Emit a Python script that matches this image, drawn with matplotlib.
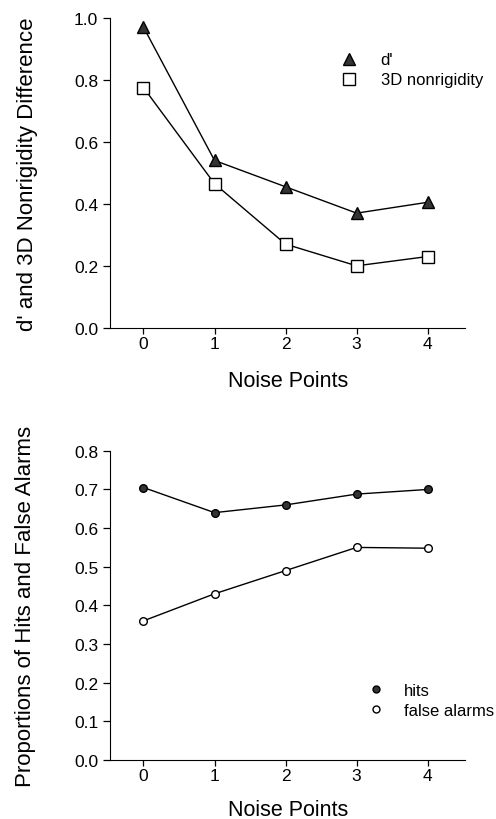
import matplotlib.pyplot as plt
from matplotlib.lines import Line2D

plt.rcParams['font.family'] = ['Liberation Sans', 'DejaVu Sans']

noise_points = [0, 1, 2, 3, 4]
d_prime = [0.97, 0.54, 0.455, 0.37, 0.405]
nonrigidity = [0.775, 0.465, 0.27, 0.20, 0.23]
hits = [0.705, 0.64, 0.66, 0.688, 0.70]
false_alarms = [0.36, 0.43, 0.49, 0.55, 0.548]

fig = plt.figure(figsize=(4.96, 8.2), dpi=100)


def style_axes(ax, ymax, yticks):
    ax.spines['top'].set_visible(False)
    ax.spines['right'].set_visible(False)
    ax.set_xlim(-0.47, 4.53)
    ax.set_ylim(0, ymax)
    ax.set_xticks(noise_points)
    ax.set_yticks(yticks)
    ax.set_yticklabels(['%.1f' % t for t in yticks])
    ax.tick_params(labelsize=12.5, length=5, width=0.9, direction='out')
    ax.tick_params(axis='x', length=4, pad=2)


# top panel
ax1 = fig.add_axes([0.222, 0.599, 0.716, 0.378])
ax1.plot(noise_points, d_prime, color='black', lw=1, marker='^', ms=8,
         mfc='#333333', mec='black')
ax1.plot(noise_points, nonrigidity, color='black', lw=1, marker='s', ms=8,
         mfc='white', mec='black')
style_axes(ax1, 1.0, [0.0, 0.2, 0.4, 0.6, 0.8, 1.0])
ax1.set_ylabel("d' and 3D Nonrigidity Difference", fontsize=16)
ax1.yaxis.set_label_coords(-0.203, 0.5)
ax1.set_xlabel('Noise Points', fontsize=15.5)
ax1.xaxis.set_label_coords(0.5, -0.135)
h1 = [Line2D([], [], ls='none', marker='^', ms=8, mfc='#333333', mec='black'),
      Line2D([], [], ls='none', marker='s', ms=8, mfc='white', mec='black')]
ax1.legend(h1, ["d'", '3D nonrigidity'], frameon=False, fontsize=12,
           loc='upper left', bbox_to_anchor=(0.63, 0.91), handlelength=1,
           handletextpad=1.4, labelspacing=0.3, borderaxespad=0)

# bottom panel
ax2 = fig.add_axes([0.222, 0.072, 0.716, 0.377])
ax2.plot(noise_points, hits, color='black', lw=1, marker='o', ms=5.5,
         mfc='#333333', mec='black')
ax2.plot(noise_points, false_alarms, color='black', lw=1, marker='o', ms=5.5,
         mfc='white', mec='black')
style_axes(ax2, 0.8, [0.0, 0.1, 0.2, 0.3, 0.4, 0.5, 0.6, 0.7, 0.8])
ax2.set_ylabel('Proportions of Hits and False Alarms', fontsize=16)
ax2.yaxis.set_label_coords(-0.21, 0.5)
ax2.set_xlabel('Noise Points', fontsize=15.5)
ax2.xaxis.set_label_coords(0.5, -0.126)
h2 = [Line2D([], [], ls='none', marker='o', ms=5, mfc='#333333', mec='black'),
      Line2D([], [], ls='none', marker='o', ms=5, mfc='white', mec='black')]
ax2.legend(h2, ['hits', 'false alarms'], frameon=False, fontsize=12,
           loc='upper left', bbox_to_anchor=(0.706, 0.272), handlelength=1,
           handletextpad=1.2, labelspacing=0.3, borderaxespad=0)

fig.savefig('out.png', dpi=100)
